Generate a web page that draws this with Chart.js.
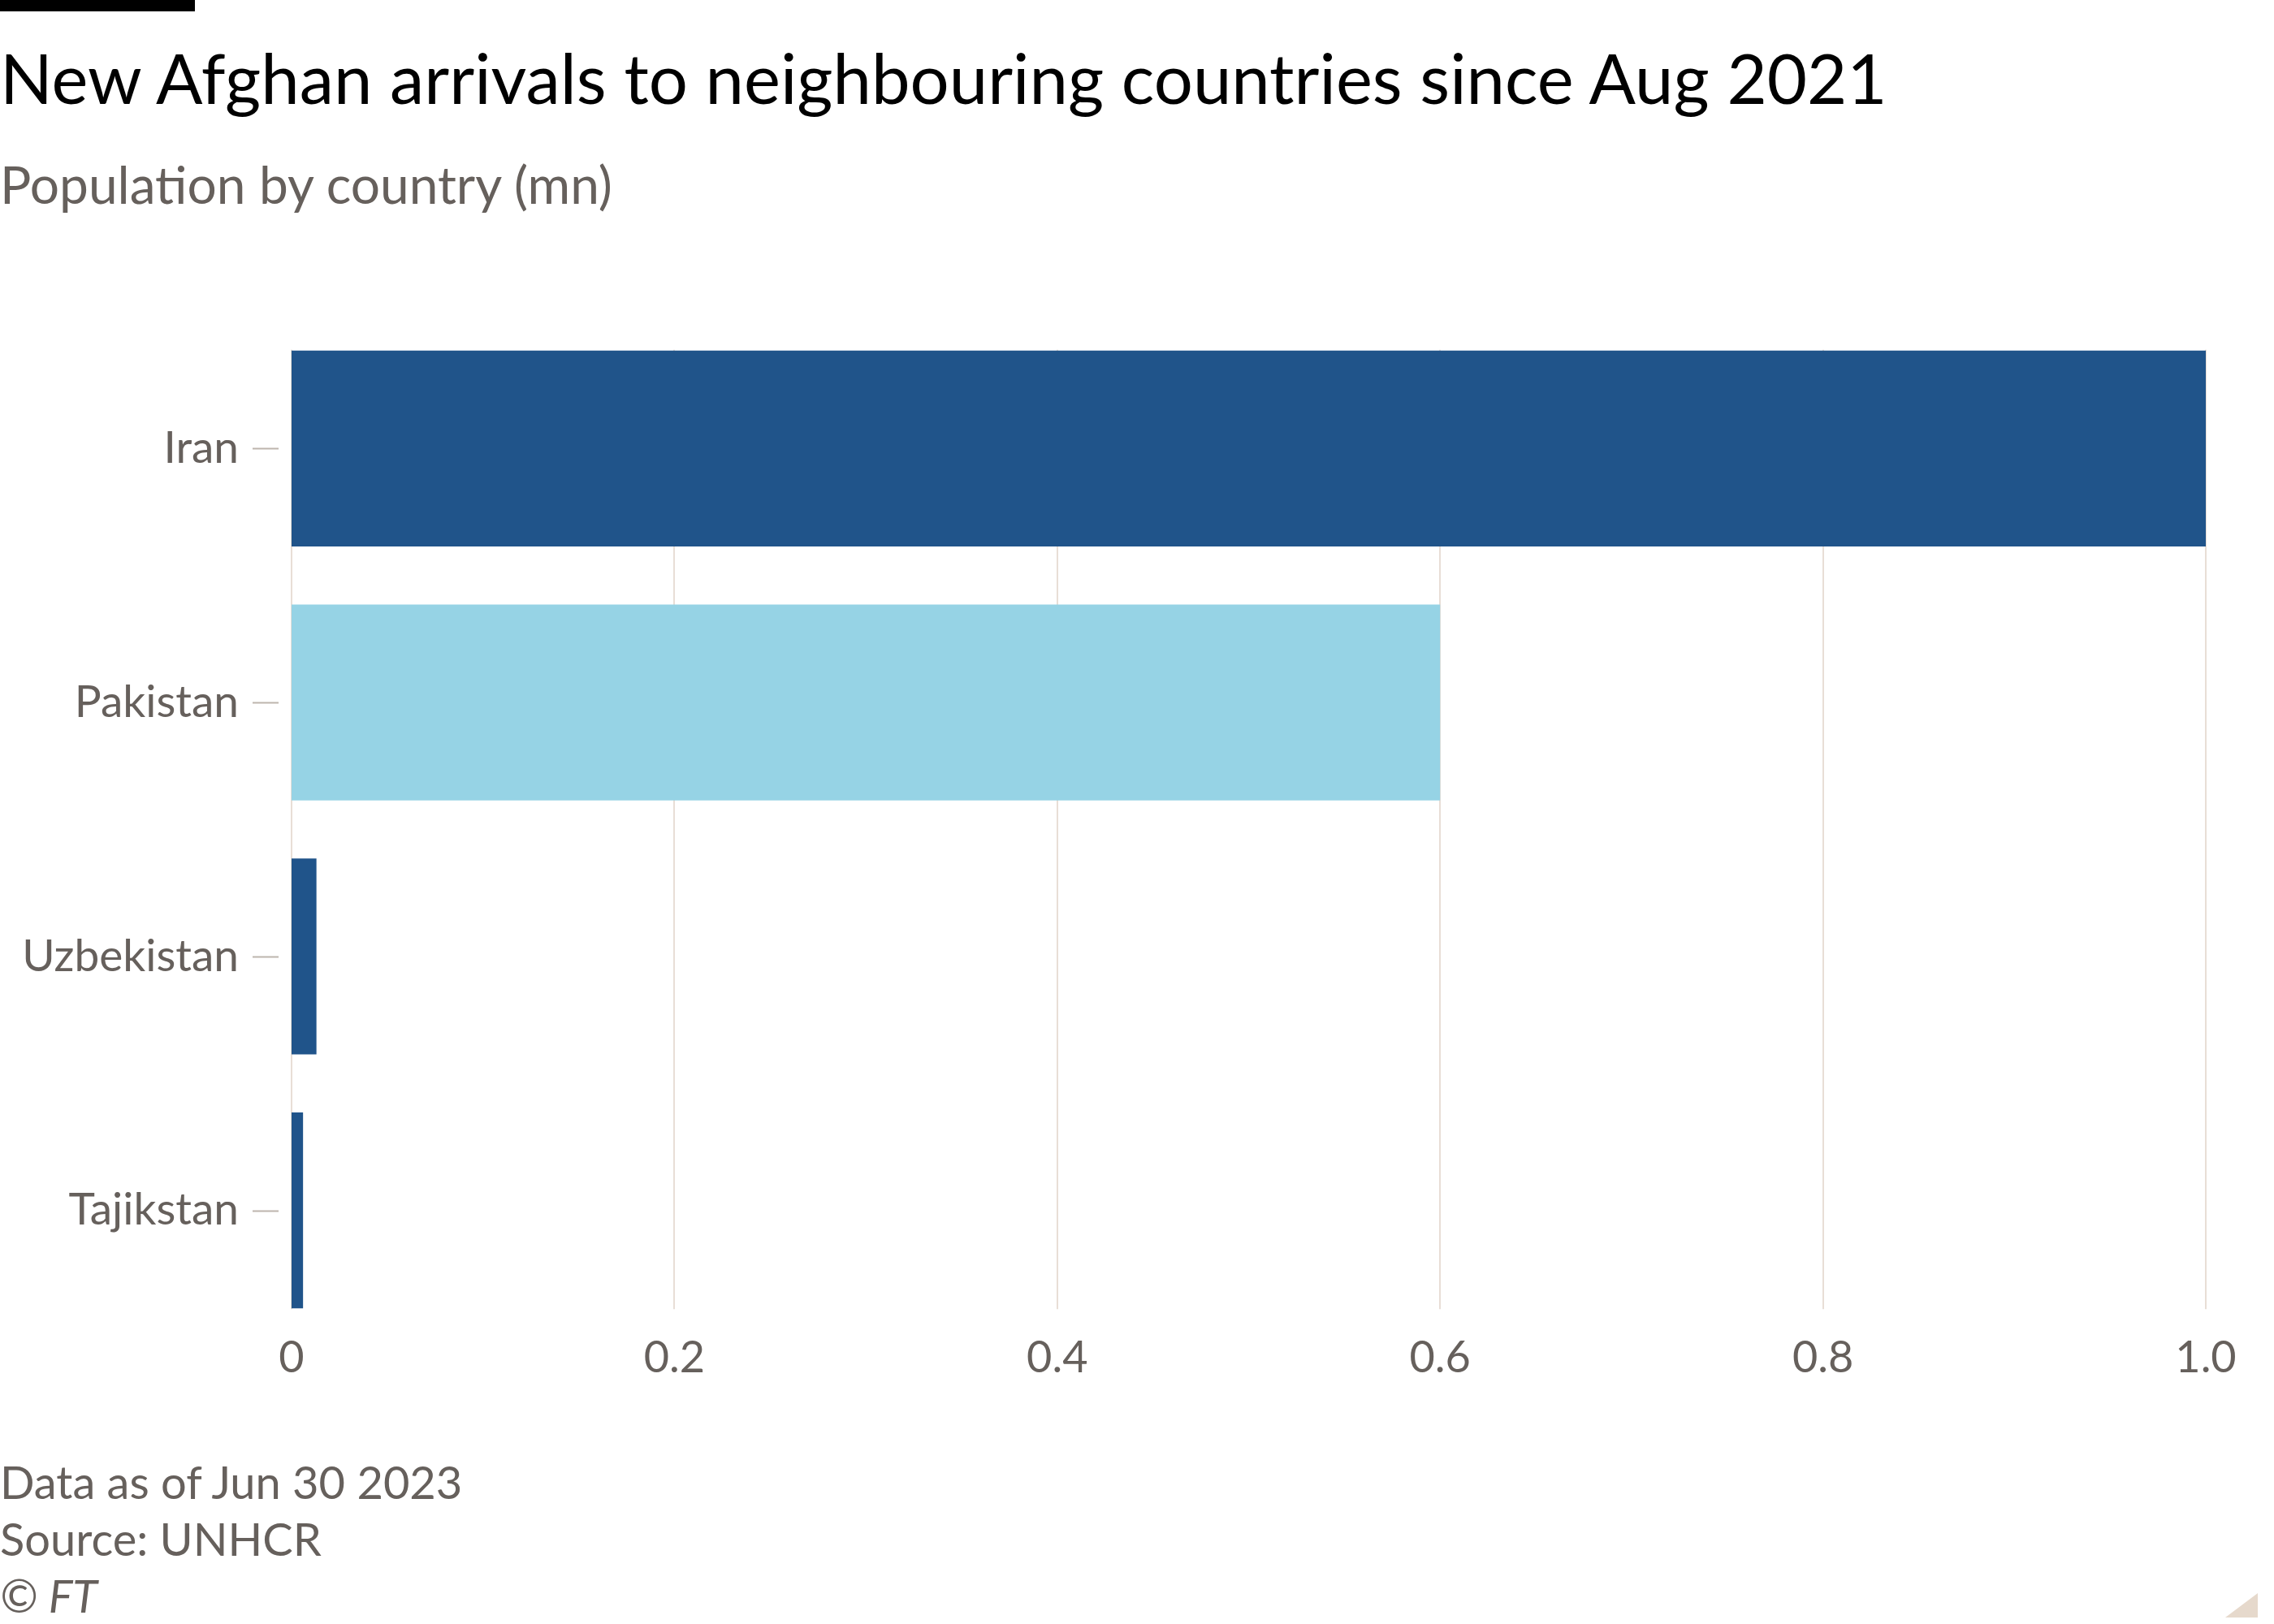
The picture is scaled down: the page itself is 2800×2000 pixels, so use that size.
<!DOCTYPE html>
<html><head><meta charset="utf-8">
<script src="https://cdn.jsdelivr.net/npm/chart.js@4"></script>
<style>
html,body{margin:0;padding:0;background:#fff;}
#wrap{position:relative;width:2800px;height:2000px;font-family:Lato,"Noto Sans",sans-serif;}
.t{position:absolute;left:0;white-space:nowrap;}
#bar{position:absolute;left:0;top:0;width:240px;height:14px;background:#000;}
#title{top:44px;font-size:85px;color:#000;}
#sub{top:188px;font-size:64px;color:#66605c;}
.foot{font-size:56px;color:#66605c;}
#tri{position:absolute;right:20px;bottom:8px;width:0;height:0;border-left:40px solid transparent;border-bottom:30px solid #e6d9cc;}
canvas{position:absolute;left:0;top:0;}
</style></head><body>
<div id="wrap">
<div id="bar"></div>
<div class="t" id="title">New Afghan arrivals to neighbouring countries since Aug 2021</div>
<div class="t" id="sub">Population by country (mn)</div>
<canvas id="c" width="2800" height="2000"></canvas>
<div class="t foot" style="top:1791px">Data as of Jun 30 2023</div>
<div class="t foot" style="top:1861px">Source: UNHCR</div>
<div class="t foot" style="top:1931px;font-style:italic">© FT</div>
<div id="tri"></div>
</div>
<script>
const categories=["Iran","Pakistan","Uzbekistan","Tajikstan"];
const values=[1.0,0.6,0.013,0.006];
const barColors=["#20548a","#96d3e5","#20548a","#20548a"];
const xTicks=[0,0.2,0.4,0.6,0.8,1.0];
const gridPlugin={id:'g',beforeDatasetsDraw(ch){
  const c=ch.ctx,xs=ch.scales.x,ys=ch.scales.y,els=ch.getDatasetMeta(0).data;
  const top=els[0].y-els[0].height/2-1,bot=els[els.length-1].y+els[els.length-1].height/2+1;
  c.save();c.lineWidth=2;c.strokeStyle='#e8ded6';
  xs.ticks.forEach(t=>{const x=Math.round(xs.getPixelForValue(t.value));c.beginPath();c.moveTo(x,top);c.lineTo(x,bot);c.stroke();});
  c.strokeStyle='#bdb5ad';
  categories.forEach((k,i)=>{const y=Math.round(ys.getPixelForValue(i))+0.5;c.beginPath();c.moveTo(xs.left-48,y);c.lineTo(xs.left-16,y);c.stroke();});
  c.restore();}};
new Chart(document.getElementById('c'),{
type:'bar',plugins:[gridPlugin],
data:{labels:categories,datasets:[{data:values,backgroundColor:barColors,categoryPercentage:0.771,barPercentage:1}]},
options:{indexAxis:'y',responsive:false,animation:false,devicePixelRatio:1,
layout:{padding:{top:396,right:84,left:0,bottom:0}},
plugins:{legend:{display:false},tooltip:{enabled:false}},
scales:{
x:{min:0,max:1,afterBuildTicks:s=>{s.ticks=xTicks.map(v=>({value:v}));},
 afterFit:s=>{s.height=353;},
 grid:{display:false},border:{display:false},
 ticks:{padding:-15,color:'#66605c',font:{family:'Lato',size:54},callback:v=>v===0?'0':v.toFixed(1)}},
y:{afterFit:s=>{s.width=359;},
 grid:{display:false},border:{display:false},
 ticks:{padding:57,color:'#66605c',font:{family:'Lato',size:55}}}
}}});
</script>
</body></html>
